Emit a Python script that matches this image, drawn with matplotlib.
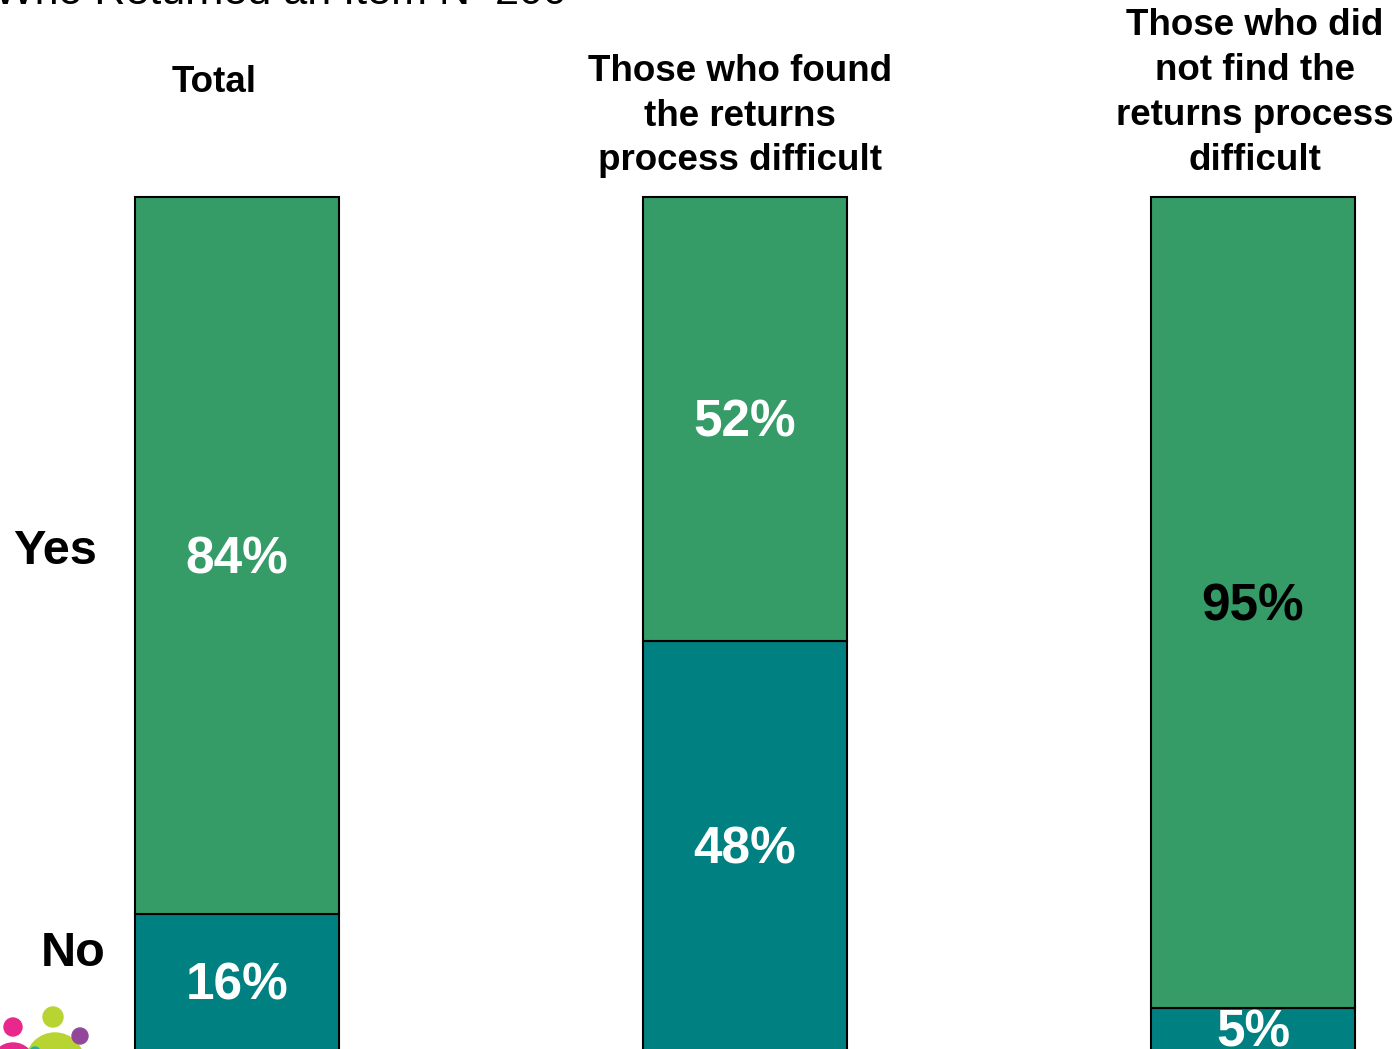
import numpy as np
import matplotlib.pyplot as plt
from matplotlib.patches import Circle
from matplotlib.transforms import IdentityTransform

plt.rcParams['font.family'] = ['Liberation Sans', 'DejaVu Sans']

groups = ['Total',
          'Those who found\nthe returns\nprocess difficult',
          'Those who did\nnot find the\nreturns process\ndifficult']
no_vals = [16, 48, 5]
yes_vals = [84, 52, 95]
yes_text_colors = ['white', 'white', 'black']
no_text_colors = ['white', 'white', 'white']

green = '#359b67'
teal = '#008080'

W, H = 1400, 1049
fig = plt.figure(figsize=(W / 100, H / 100), dpi=100)

# axes fill the whole figure; limits chosen so 100% spans about 854 px
ax = fig.add_axes([0, 0, 1, 1])
x = np.arange(len(groups))
step = 508.0
ax.set_xlim(-237 / step, (W - 237) / step)
ax.set_ylim(1.6 / 853.6 * 100, (H + 1.6) / 853.6 * 100)
ax.axis('off')

bw = 204 / step
ax.bar(x, no_vals, width=bw, color=teal, edgecolor='black', linewidth=1.5)
ax.bar(x, yes_vals, width=bw, bottom=no_vals, color=green, edgecolor='black', linewidth=1.5)

for i in range(len(groups)):
    ax.annotate(f'{no_vals[i]}%', xy=(x[i], no_vals[i] / 2), xytext=(0, -3),
                textcoords='offset points', ha='center', va='center',
                fontsize=37, fontweight='bold', color=no_text_colors[i])
    ax.annotate(f'{yes_vals[i]}%', xy=(x[i], no_vals[i] + yes_vals[i] / 2), xytext=(0, -3),
                textcoords='offset points', ha='center', va='center',
                fontsize=37, fontweight='bold', color=yes_text_colors[i])


def fx(px):
    return px / W


def fy(py):
    return 1 - py / H


# column headers
fig.text(fx(214), fy(82), groups[0], ha='center', va='center', fontsize=26.5, fontweight='bold')
fig.text(fx(740), fy(116), groups[1], ha='center', va='center', fontsize=26.5,
         fontweight='bold', linespacing=1.36)
fig.text(fx(1255), fy(93), groups[2], ha='center', va='center', fontsize=26.5,
         fontweight='bold', linespacing=1.36)

fig.text(fx(55), fy(551), 'Yes', ha='center', va='center', fontsize=35, fontweight='bold')
fig.text(fx(73), fy(954), 'No', ha='center', va='center', fontsize=35, fontweight='bold')

# slide title, cut off at the top edge
fig.text(fx(-6), fy(4), 'Who Returned an Item N=200', ha='left', va='baseline', fontsize=31)

# logo in the corner (pixel coordinates)
logo = [((13, 1027), 9, '#e8288c'), ((13, 1065), 22, '#e8288c'),
        ((53, 1017), 10, '#b8d432'), ((55, 1062), 29, '#b8d432'),
        ((80, 1036), 8, '#93479b'), ((35, 1052), 5, '#1bb0b0')]
for (cx, cy), r, c in logo:
    fig.patches.append(Circle((cx, H - cy), r, transform=IdentityTransform(),
                              color=c, zorder=5))

fig.savefig('out.png', dpi=100)
